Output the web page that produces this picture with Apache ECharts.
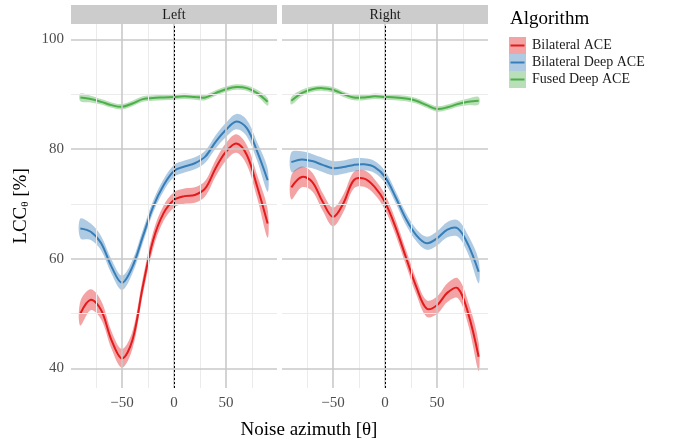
<!DOCTYPE html>
<html lang="en">
<head>
    <meta charset="UTF-8">
    <title>LCC by noise azimuth</title>
    <script src="https://cdn.jsdelivr.net/npm/echarts@6/dist/echarts.min.js"></script>
    <style>
        html, body { margin: 0; padding: 0; background: #fff; }
    </style>
</head>
<body>
<div id="chart" style="width:680px; height:445px;"></div>
<script>
    // azimuth positions (degrees)
    var xs = [-90, -80, -70, -60, -50, -40, -30, -20, -10, 0, 10, 20, 30, 40, 50, 60, 70, 80, 90];

    var panelNames = ['Left', 'Right'];
    var seriesNames = ['Bilateral ACE', 'Bilateral Deep ACE', 'Fused Deep ACE'];

    // mean LCC values [%]
    var leftRed = [50.0, 52.5, 50.6, 45.1, 41.8, 45.1, 54.9, 63.4, 68.3, 70.7, 71.4, 71.6, 72.8, 76.5, 79.5, 81.0, 78.9, 73.1, 66.4];
    var leftBlue = [65.5, 64.9, 62.8, 58.5, 55.6, 58.5, 64.0, 69.5, 73.4, 76.0, 76.8, 77.4, 78.6, 81.3, 83.5, 85.0, 83.8, 79.5, 74.3];
    var leftGreen = [89.4, 89.1, 88.6, 88.0, 87.7, 88.3, 89.1, 89.3, 89.4, 89.5, 89.6, 89.5, 89.4, 90.2, 90.9, 91.3, 91.1, 90.2, 88.6];
    var rightRed = [73.0, 74.9, 74.0, 70.4, 67.6, 70.1, 74.3, 74.6, 73.1, 70.3, 65.8, 60.3, 54.9, 50.9, 51.5, 53.8, 54.6, 50.0, 42.1];
    var rightBlue = [77.6, 78.1, 77.8, 77.1, 76.5, 76.7, 77.1, 77.2, 76.7, 74.9, 71.3, 67.3, 64.3, 62.8, 63.7, 65.3, 65.5, 62.5, 57.6];
    var rightGreen = [88.8, 90.2, 90.9, 91.1, 90.8, 90.0, 89.4, 89.4, 89.6, 89.5, 89.4, 89.2, 88.8, 88.0, 87.3, 87.6, 88.2, 88.6, 88.8];

    // half width of the shaded band
    var redSe = [2.2, 1.9, 1.7, 1.6, 1.7, 1.6, 1.5, 1.5, 1.4, 1.4, 1.4, 1.4, 1.4, 1.5, 1.6, 1.7, 1.8, 2.1, 2.6];
    var blueSe = [1.8, 1.5, 1.3, 1.3, 1.3, 1.2, 1.2, 1.1, 1.1, 1.1, 1.1, 1.1, 1.1, 1.2, 1.3, 1.4, 1.5, 1.7, 2.1];
    var greenSe = [0.7, 0.6, 0.5, 0.5, 0.5, 0.5, 0.5, 0.5, 0.5, 0.5, 0.5, 0.5, 0.5, 0.5, 0.5, 0.5, 0.5, 0.6, 0.7];

    // ticks
    var xTicks = [-50, 0, 50];
    var xMinor = [-75, -25, 25, 75];
    var yTicks = [40, 60, 80, 100];
    var yMinor = [50, 70, 90];

    var lineColors = ['#E41A1C', '#377EB8', '#4DAF4A'];
    var bandColors = ['rgba(228,26,28,0.4)', 'rgba(55,126,184,0.4)', 'rgba(77,175,74,0.4)'];
    var FONT = 'Liberation Serif';
    var SMOOTH = 0.35;

    var panelData = [[leftRed, leftBlue, leftGreen], [rightRed, rightBlue, rightGreen]];
    var seData = [redSe, blueSe, greenSe];
    var gridLefts = [71, 282];

    var myChart = echarts.init(document.getElementById('chart'));

    var near = function (v, list) {
        for (var i = 0; i < list.length; i++) {
            if (Math.abs(v - list[i]) < 1e-6) return true;
        }
        return false;
    };

    var grids = [], xAxes = [], yAxes = [], series = [], graphics = [];

    for (var p = 0; p < 2; p++) {
        grids.push({left: gridLefts[p], top: 24, width: 206, height: 364});
        xAxes.push({
            type: 'value', gridIndex: p, min: -99, max: 99, interval: 1,
            axisLine: {show: false}, axisTick: {show: false}, splitLine: {show: false},
            axisLabel: {
                color: '#4d4d4d', fontFamily: FONT, fontSize: 15, margin: 8,
                formatter: function (v) {
                    if (!near(v, xTicks)) return '';
                    return v < 0 ? '\u2212' + Math.abs(v) : String(v);
                }
            }
        });
        yAxes.push({
            type: 'value', gridIndex: p, min: 36.4, max: 102.8, interval: 0.2,
            axisLine: {show: false}, axisTick: {show: false}, splitLine: {show: false},
            axisLabel: {
                show: p === 0, color: '#4d4d4d', fontFamily: FONT, fontSize: 15, margin: 7,
                formatter: function (v) { return near(v, yTicks) ? String(Math.round(v)) : ''; }
            },
            name: p === 0 ? '{a|LCC}{b|θ}{a| [%]}' : '',
            nameLocation: 'middle', nameGap: 40, nameRotate: 90,
            nameTextStyle: {
                rich: {
                    a: {fontFamily: FONT, fontSize: 19, color: '#000'},
                    b: {fontFamily: FONT, fontSize: 11, color: '#000', verticalAlign: 'bottom', lineHeight: 11}
                }
            }
        });

        // grid lines
        var gl = [];
        xMinor.forEach(function (v) { gl.push({xAxis: v, lineStyle: {color: '#ebebeb', width: 1, type: 'solid'}}); });
        yMinor.forEach(function (v) { gl.push({yAxis: v, lineStyle: {color: '#ebebeb', width: 1, type: 'solid'}}); });
        xTicks.forEach(function (v) { gl.push({xAxis: v, lineStyle: {color: '#c9c9c9', width: 1.6, type: 'solid'}}); });
        yTicks.forEach(function (v) { gl.push({yAxis: v, lineStyle: {color: '#c9c9c9', width: 1.6, type: 'solid'}}); });
        series.push({
            type: 'line', xAxisIndex: p, yAxisIndex: p, data: [], z: 1, silent: true,
            markLine: {silent: true, symbol: ['none', 'none'], animation: false, label: {show: false}, data: gl}
        });
        series.push({
            type: 'line', xAxisIndex: p, yAxisIndex: p, data: [], z: 10, silent: true,
            markLine: {
                silent: true, symbol: ['none', 'none'], animation: false, label: {show: false},
                data: [{xAxis: 0, lineStyle: {color: '#000', width: 1, type: [2, 2]}}]
            }
        });

        for (var s = 0; s < 3; s++) {
            (function (mean, se, bandColor, lineColor, name) {
                var rows = xs.map(function (x, i) { return [x, mean[i], mean[i] - se[i], mean[i] + se[i]]; });
                // confidence band
                series.push({
                    type: 'custom', xAxisIndex: p, yAxisIndex: p, z: 2, silent: true,
                    data: rows,
                    renderItem: function (params, api) {
                        if (params.dataIndex !== 0) return null;
                        var up = [], lo = [];
                        for (var i = 0; i < rows.length; i++) {
                            up.push(api.coord([rows[i][0], rows[i][3]]));
                            lo.unshift(api.coord([rows[i][0], rows[i][2]]));
                        }
                        return {
                            type: 'polygon',
                            shape: {points: up.concat(lo), smooth: SMOOTH},
                            style: {fill: bandColor}
                        };
                    }
                });
                // mean line
                series.push({
                    name: name, type: 'custom', xAxisIndex: p, yAxisIndex: p, z: 3, silent: true,
                    data: rows,
                    renderItem: function (params, api) {
                        if (params.dataIndex !== 0) return null;
                        var pts = [];
                        for (var i = 0; i < rows.length; i++) {
                            pts.push(api.coord([rows[i][0], rows[i][1]]));
                        }
                        return {
                            type: 'polyline',
                            shape: {points: pts, smooth: SMOOTH},
                            style: {stroke: lineColor, lineWidth: 2, fill: null}
                        };
                    }
                });
            })(panelData[p][s], seData[s], bandColors[s], lineColors[s], seriesNames[s]);
        }

        // facet strip
        graphics.push({type: 'rect', shape: {x: gridLefts[p], y: 5, width: 206, height: 19}, style: {fill: '#cccccc'}});
        graphics.push({
            type: 'text', x: gridLefts[p] + 103, y: 15,
            style: {text: panelNames[p], fontFamily: FONT, fontSize: 14, fill: '#1a1a1a', align: 'center', verticalAlign: 'middle'}
        });
    }

    // x axis title
    graphics.push({
        type: 'text', x: 309, y: 430,
        style: {text: 'Noise azimuth [θ]', fontFamily: FONT, fontSize: 19, fill: '#000', align: 'center', verticalAlign: 'middle'}
    });

    // legend
    graphics.push({
        type: 'text', x: 510, y: 19,
        style: {text: 'Algorithm', fontFamily: FONT, fontSize: 19, fill: '#000', align: 'left', verticalAlign: 'middle'}
    });
    for (var k = 0; k < seriesNames.length; k++) {
        var ky = 37 + k * 17;
        graphics.push({type: 'rect', shape: {x: 509, y: ky, width: 17, height: 17}, style: {fill: bandColors[k]}});
        graphics.push({type: 'line', shape: {x1: 510.5, y1: ky + 8.5, x2: 524.5, y2: ky + 8.5}, style: {stroke: lineColors[k], lineWidth: 2}});
        graphics.push({
            type: 'text', x: 532, y: ky + 8.5,
            style: {text: seriesNames[k], fontFamily: FONT, fontSize: 14, fill: '#1a1a1a', align: 'left', verticalAlign: 'middle'}
        });
    }

    myChart.setOption({
        animation: false,
        backgroundColor: '#fff',
        grid: grids,
        xAxis: xAxes,
        yAxis: yAxes,
        series: series,
        graphic: graphics
    });
</script>
</body>
</html>
